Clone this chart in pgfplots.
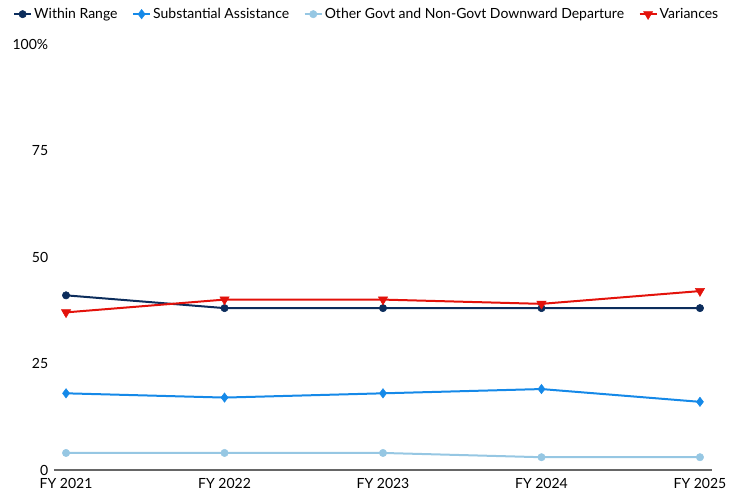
\documentclass[border=0pt]{standalone}
\usepackage{pgfplots}
\pgfplotsset{compat=1.18}
\usepackage{fontspec}
\setmainfont{Lato}

\definecolor{navy}{HTML}{0C2D5C}
\definecolor{subblue}{HTML}{1589E8}
\definecolor{lightblue}{HTML}{96C7E3}
\definecolor{varred}{HTML}{E3120B}

\begin{document}
\fontsize{14}{16}\selectfont
\begin{tikzpicture}
\useasboundingbox (-54pt,-24pt) rectangle (684pt,470pt);
\begin{axis}[
    scale only axis,
    width=658pt, height=426pt,
    xmin=-0.076, xmax=4.076,
    ymin=0, ymax=100,
    xtick={0,1,2,3,4},
    xticklabels={FY 2021,FY 2022,FY 2023,FY 2024,FY 2025},
    ytick={0,25,50,75,100},
    yticklabels={0,25,50,75,100\%},
    axis x line*=bottom,
    axis y line*=left,
    axis line style={-},
    x axis line style={draw=black!60, line width=1.5pt},
    y axis line style={draw=none},
    major tick length=0pt,
    tick style={draw=none},
    /pgf/number format/assume math mode=true,
    ticklabel style={font=\fontsize{14}{16}\selectfont},
    xticklabel style={yshift=-3pt},
    yticklabel style={xshift=-1pt},
    clip=false,
    legend style={
        at={(-0.067,1.07)}, anchor=west,
        draw=none, fill=none,
        legend columns=-1,
        font=\fontsize{14}{16}\selectfont,
        /tikz/every even column/.append style={column sep=12.5pt},
    },
    legend cell align=left,
    every axis plot/.append style={line width=2pt},
]

\addplot[navy, mark=*, mark size=3.7pt, mark options={solid, line width=0.5pt}]
    coordinates {(0,41)(1,38)(2,38)(3,38)(4,38)};
\addlegendentry{Within Range}

\addplot[subblue, mark=diamond*, mark size=4.7pt, mark options={solid, line width=0.5pt}]
    coordinates {(0,18)(1,17)(2,18)(3,19)(4,16)};
\addlegendentry{Substantial Assistance}

\addplot[lightblue, mark=*, mark size=3.7pt, mark options={solid, line width=0.5pt}]
    coordinates {(0,4)(1,4)(2,4)(3,3)(4,3)};
\addlegendentry{Other Govt and Non-Govt Downward Departure}

\addplot[varred, mark=triangle*, mark size=5.3pt, mark options={solid, rotate=180, line width=0.5pt}]
    coordinates {(0,37)(1,40)(2,40)(3,39)(4,42)};
\addlegendentry{Variances}

\end{axis}
\end{tikzpicture}
\end{document}
